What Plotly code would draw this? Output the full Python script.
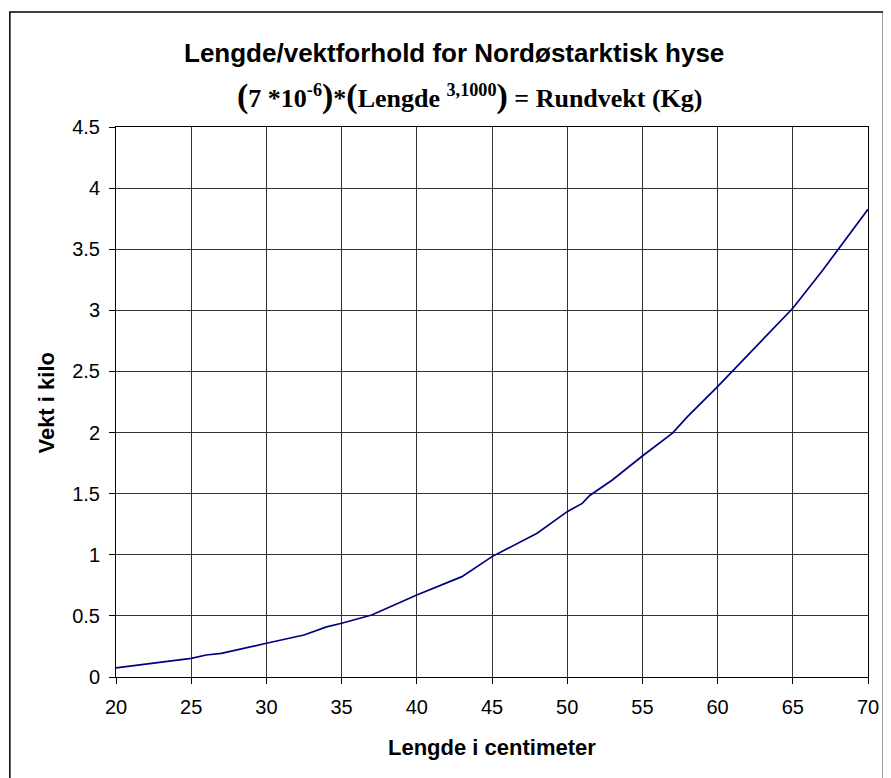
import plotly.graph_objects as go

lengde = [20, 25, 26, 27, 30, 32.5, 34, 35, 37, 38, 39, 40, 43, 45, 48, 50, 51, 51.5,
          53, 55, 57, 58, 60, 62, 65, 67, 70]
vekt = [0.075, 0.153, 0.180, 0.194, 0.276, 0.344, 0.41, 0.44, 0.507, 0.56, 0.616, 0.671,
        0.821, 0.985, 1.176, 1.353, 1.42, 1.485, 1.612, 1.808, 1.995, 2.13, 2.376, 2.635,
        3.017, 3.33, 3.827]

x_ticks = [20, 25, 30, 35, 40, 45, 50, 55, 60, 65, 70]
y_ticks = [0, 0.5, 1, 1.5, 2, 2.5, 3, 3.5, 4, 4.5]
y_labels = ["0", "0.5", "1", "1.5", "2", "2.5", "3", "3.5", "4", "4.5"]

title1 = "Lengde/vektforhold for Nordøstarktisk hyse"
big = "<span style='font-size:34px'>%s</span>"
title2 = (big % "(") + "7 *10<sup>-6</sup>" + (big % ")") + "*" + (big % "(") + \
    "Lengde <sup>3,1000</sup>" + (big % ")") + " = Rundvekt (Kg)"
x_title = "Lengde i centimeter"
y_title = "Vekt i kilo"

# page body has an 8px margin; plot area sits at page x 116..874, y 127..677
OFF = 8
L, T, PW, PH = 116, 127, 758, 550

def px(xp):
    return (xp - L) / PW

def py(yp):
    return (T + PH - yp) / PH

fig = go.Figure()
fig.add_trace(go.Scatter(x=lengde, y=vekt, mode="lines",
                         line=dict(color="#000080", width=1.7), showlegend=False))

axis_common = dict(showline=True, linecolor="black", linewidth=1, mirror=True,
                   showgrid=True, gridcolor="#333333", gridwidth=1,
                   ticks="outside", ticklen=6, tickcolor="black", zeroline=False,
                   tickfont=dict(family="Liberation Sans, Arial", size=20, color="black"))

fig.update_xaxes(range=[20, 70], tickvals=x_ticks, ticktext=[str(v) for v in x_ticks],
                 ticklabelstandoff=6, **axis_common)
fig.update_yaxes(range=[0, 4.5], tickvals=y_ticks, ticktext=y_labels,
                 ticklabelstandoff=5, **axis_common)

fig.update_layout(
    width=891 - OFF, height=778 - OFF,
    margin=dict(l=L - OFF, r=17, t=T - OFF, b=101),
    plot_bgcolor="white", paper_bgcolor="white",
    font=dict(family="Liberation Sans, Arial", color="black"),
)

# outer chart border
fig.add_shape(type="rect", xref="paper", yref="paper",
              x0=px(9), x1=px(889.5), y0=py(800), y1=py(12),
              line=dict(color="black", width=1.5), fillcolor="rgba(0,0,0,0)", layer="below")

ann = dict(xref="paper", yref="paper", showarrow=False, xanchor="center", yanchor="middle")
fig.add_annotation(text="<b>" + title1 + "</b>", x=px(457), y=py(53),
                   font=dict(family="Liberation Sans, Arial", size=26, color="black"), **ann)
fig.add_annotation(text="<b>" + title2 + "</b>", x=px(473), y=py(96),
                   font=dict(family="Liberation Serif, Times New Roman", size=26, color="black"),
                   **ann)
fig.add_annotation(text="<b>" + x_title + "</b>", x=px(495), y=py(747),
                   font=dict(family="Liberation Sans, Arial", size=22, color="black"), **ann)
fig.add_annotation(text="<b>" + y_title + "</b>", x=px(45), y=py(403), textangle=-90,
                   font=dict(family="Liberation Sans, Arial", size=22, color="black"), **ann)

fig.write_html("out.html")
